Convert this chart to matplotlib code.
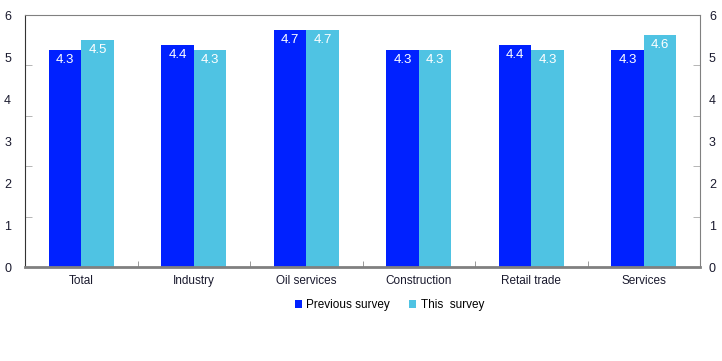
import matplotlib.pyplot as plt
import matplotlib.transforms as mtransforms
import numpy as np

categories = ['Total', 'Industry', 'Oil services', 'Construction', 'Retail trade', 'Services']
previous = [4.3, 4.4, 4.7, 4.3, 4.4, 4.3]
this_survey = [4.5, 4.3, 4.7, 4.3, 4.3, 4.6]
tick_labels = ['0', '1', '2', '3', '4', '5', '6']

plt.rcParams['font.family'] = ['Liberation Sans', 'DejaVu Sans']
blue = '#0021ff'
cyan = '#4fc3e3'

fig = plt.figure(figsize=(7.22, 3.61), dpi=100)
ax = fig.add_axes([25 / 722, 94 / 361, 675 / 722, 252 / 361])

x = np.arange(len(categories))
w = 0.29
b1 = ax.bar(x - w / 2, previous, w, color=blue, label='Previous survey')
b2 = ax.bar(x + w / 2, this_survey, w, color=cyan, label='This  survey')
for bars, vals in ((b1, previous), (b2, this_survey)):
    for r, v in zip(bars, vals):
        ax.text(r.get_x() + r.get_width() / 2, v - 0.07, f'{v:.1f}', ha='center', va='top',
                color='white', fontsize=9.5)

ax.set_xlim(-0.5, len(categories) - 0.5)
ax.set_ylim(0, 5)

# labels spread evenly, tick marks at whole units
ax.set_yticks(np.linspace(0, 5, len(tick_labels)))
ax.set_yticklabels(tick_labels)
ax.tick_params(axis='y', which='major', length=0, pad=10, labelsize=9, colors='#1a1a2e',
               right=True, labelright=True)
ax.set_yticks([1, 2, 3, 4], minor=True)
ax.tick_params(axis='y', which='minor', direction='in', length=5, color='#aaaaaa',
               left=True, right=True)

# right-hand labels sit closer to the axis than the left ones
shift = mtransforms.ScaledTranslation(-5 / 100, 0, fig.dpi_scale_trans)
for t in ax.yaxis.get_majorticklabels():
    pass
for tick in ax.yaxis.get_major_ticks():
    tick.label2.set_transform(tick.label2.get_transform() + shift)

ax.set_xticks(x)
ax.set_xticklabels(categories)
ax.tick_params(axis='x', which='major', length=0, pad=6, labelsize=8.5, colors='#1a1a2e')
ax.set_xticks(np.arange(0.5, len(categories) - 1, 1), minor=True)
ax.tick_params(axis='x', which='minor', direction='in', length=4, color='#888888')

for s in ('top', 'right'):
    ax.spines[s].set_color('#808080')
ax.spines['left'].set_color('#333333')
ax.spines['bottom'].set_color('#808080')
ax.spines['bottom'].set_linewidth(2)

ax.legend(loc='upper center', bbox_to_anchor=(0.54, -0.085), ncol=2, frameon=False,
          fontsize=8.5, handlelength=0.6, handleheight=0.6, handletextpad=0.4, columnspacing=1.6)

fig.savefig('out.png', dpi=100)
